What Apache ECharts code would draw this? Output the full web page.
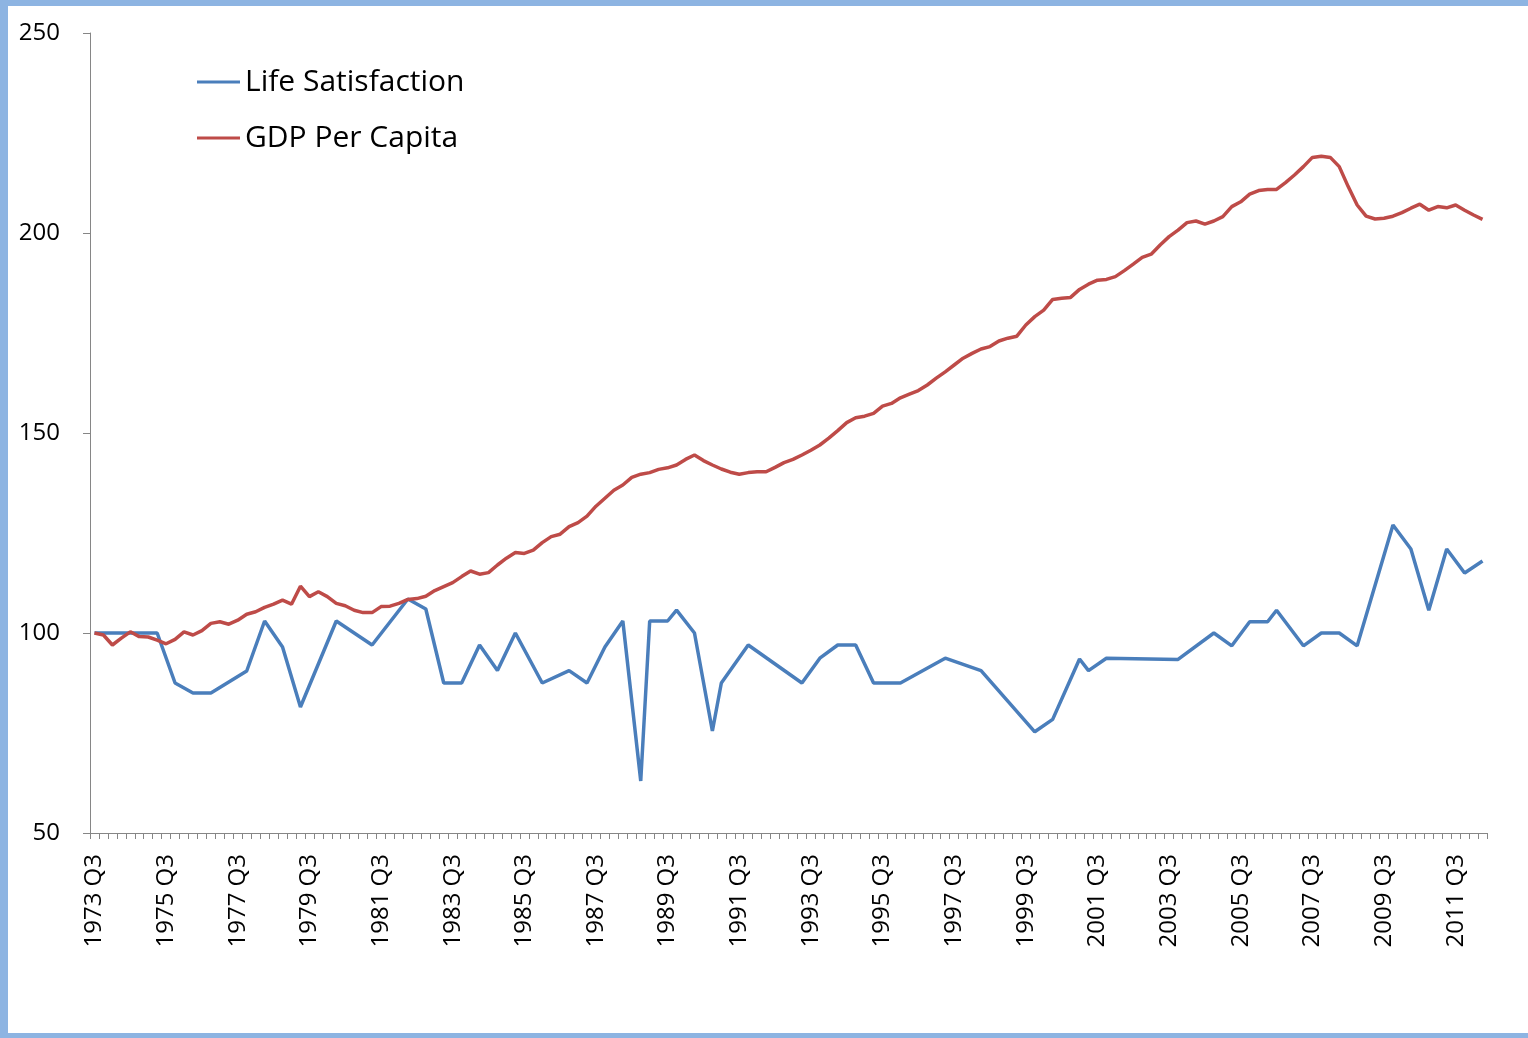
<!DOCTYPE html>
<html>
	<head>
		<meta charset="UTF-8">
		<title>Life Satisfaction vs GDP Per Capita</title>
		<style>
			body { margin: 0; background: #fff; }
			#main { width: 1528px; height: 1038px; }
		</style>
	</head>
	<body>
		<div id="main"></div>
		<script src="https://cdn.jsdelivr.net/npm/echarts@6/dist/echarts.min.js"></script>
		<script type="text/javascript">
			// quarters 1973 Q3 .. 2012 Q2
			var firstYear = 1973, firstQuarter = 3, quarterCount = 156;
			var quarters = [];
			for (var i = 0; i < quarterCount; i++) {
				var q = firstQuarter - 1 + i;
				quarters.push((firstYear + Math.floor(q / 4)) + ' Q' + (q % 4 + 1));
			}

			var yTicks = [50, 100, 150, 200, 250];

			// GDP per capita, index 1973 Q3 = 100, one value per quarter
			var gdpPerCapita = [
				100, 99.5, 97, 98.7, 100.3, 99.1, 99, 98.2, 97.3, 98.4,
				100.3, 99.5, 100.6, 102.4, 102.8, 102.2, 103.2, 104.7, 105.3, 106.4,
				107.2, 108.2, 107.2, 111.7, 109.1, 110.3, 109.1, 107.4, 106.8, 105.7,
				105.1, 105.1, 106.6, 106.7, 107.4, 108.4, 108.6, 109.2, 110.6, 111.6,
				112.6, 114.1, 115.5, 114.7, 115.1, 117, 118.7, 120.1, 119.9, 120.7,
				122.6, 124.1, 124.7, 126.6, 127.6, 129.2, 131.7, 133.7, 135.7, 137,
				138.9, 139.7, 140.1, 140.9, 141.3, 142, 143.4, 144.5, 143.1, 142,
				141, 140.2, 139.7, 140.1, 140.3, 140.3, 141.4, 142.6, 143.4, 144.5,
				145.7, 147, 148.7, 150.6, 152.6, 153.8, 154.2, 154.9, 156.7, 157.4,
				158.8, 159.7, 160.6, 162, 163.7, 165.3, 167, 168.7, 169.9, 171,
				171.6, 173, 173.7, 174.2, 177, 179.1, 180.7, 183.4, 183.7, 183.9,
				185.9, 187.2, 188.2, 188.4, 189.1, 190.6, 192.2, 193.9, 194.7, 197,
				199.1, 200.7, 202.6, 203, 202.2, 203, 204.1, 206.6, 207.8, 209.7,
				210.6, 210.9, 210.9, 212.6, 214.5, 216.6, 218.9, 219.2, 218.9, 216.6,
				211.6, 207, 204.2, 203.5, 203.7, 204.2, 205.1, 206.2, 207.2, 205.7,
				206.6, 206.3, 207, 205.7, 204.5, 203.4
			];

			// life satisfaction, only the quarters with a survey value
			var lifeQuarters = [
				'1973 Q3', '1975 Q2', '1975 Q4', '1976 Q2', '1976 Q4', '1977 Q4', '1978 Q2', '1978 Q4',
				'1979 Q2', '1980 Q2', '1981 Q2', '1982 Q2', '1982 Q4', '1983 Q2', '1983 Q4', '1984 Q2',
				'1984 Q4', '1985 Q2', '1986 Q1', '1986 Q4', '1987 Q2', '1987 Q4', '1988 Q2', '1988 Q4',
				'1989 Q1', '1989 Q3', '1989 Q4', '1990 Q2', '1990 Q4', '1991 Q1', '1991 Q4', '1993 Q2',
				'1993 Q4', '1994 Q2', '1994 Q4', '1995 Q2', '1996 Q1', '1997 Q2', '1998 Q2', '1999 Q4',
				'2000 Q2', '2001 Q1', '2001 Q2', '2001 Q4', '2003 Q4', '2004 Q4', '2005 Q2', '2005 Q4',
				'2006 Q2', '2006 Q3', '2007 Q2', '2007 Q4', '2008 Q2', '2008 Q4', '2009 Q4', '2010 Q2',
				'2010 Q4', '2011 Q2', '2011 Q4', '2012 Q2'
			];
			var lifeValues = [
				100, 100, 87.5, 85, 85, 90.5, 103, 96.5,
				81.5, 103, 97, 108.5, 106, 87.5, 87.5, 97,
				90.6, 100, 87.5, 90.6, 87.5, 96.5, 103, 63,
				103, 103, 105.7, 100, 75.5, 87.5, 97, 87.5,
				93.7, 97, 97, 87.5, 87.5, 93.7, 90.6, 75.3,
				78.4, 93.5, 90.6, 93.7, 93.4, 100, 96.8, 102.8,
				102.8, 105.7, 96.8, 100, 100, 96.8, 127, 121,
				105.7, 121, 115, 118
			];

			var lifeData = [];
			for (var k = 0; k < lifeQuarters.length; k++) {
				lifeData.push([lifeQuarters[k], lifeValues[k]]);
			}

			var axisGray = '#868686';
			var fontName = 'Open Sans';
			var frameBlue = '#8db4e2';

			var myChart = echarts.init(document.getElementById('main'));

			var option = {
				backgroundColor: '#fff',
				animation: false,
				textStyle: { fontFamily: fontName },
				grid: { left: 90, right: 41, top: 33, bottom: 205, containLabel: false },
				legend: {
					orient: 'vertical',
					left: 197,
					top: 64,
					padding: 0,
					icon: 'rect',
					itemWidth: 43,
					itemHeight: 3,
					itemGap: 20,
					textStyle: { fontFamily: fontName, fontSize: 30, color: '#000', lineHeight: 36 },
					data: ['Life Satisfaction', 'GDP Per Capita']
				},
				xAxis: {
					type: 'category',
					data: quarters,
					boundaryGap: true,
					axisLine: { lineStyle: { color: axisGray, width: 1 } },
					axisTick: { show: true, interval: 0, length: 6, lineStyle: { color: axisGray } },
					axisLabel: {
						interval: 7,
						rotate: 90,
						margin: 21,
						fontFamily: fontName,
						fontSize: 24,
						color: '#000'
					},
					splitLine: { show: false }
				},
				yAxis: {
					type: 'value',
					min: yTicks[0],
					max: yTicks[yTicks.length - 1],
					interval: 50,
					axisLine: { show: true, lineStyle: { color: axisGray, width: 1 } },
					axisTick: { show: true, length: 7, lineStyle: { color: axisGray } },
					axisLabel: { margin: 30, fontFamily: fontName, fontSize: 24, color: '#000' },
					splitLine: { show: false }
				},
				series: [{
					name: 'Life Satisfaction',
					type: 'line',
					data: lifeData,
					symbol: 'none',
					itemStyle: { color: '#4a7ebb' },
					lineStyle: { color: '#4a7ebb', width: 3.5 }
				}, {
					name: 'GDP Per Capita',
					type: 'line',
					data: gdpPerCapita,
					symbol: 'none',
					itemStyle: { color: '#be4b48' },
					lineStyle: { color: '#be4b48', width: 3.5 }
				}],
				// light blue frame round the picture
				graphic: [
					{ type: 'rect', left: 0, top: 0, shape: { width: 1528, height: 6 }, style: { fill: frameBlue } },
					{ type: 'rect', left: 0, top: 0, shape: { width: 8, height: 1038 }, style: { fill: frameBlue } },
					{ type: 'rect', left: 0, top: 1033, shape: { width: 1528, height: 5 }, style: { fill: frameBlue } }
				]
			};

			myChart.setOption(option);
		</script>
	</body>
</html>
